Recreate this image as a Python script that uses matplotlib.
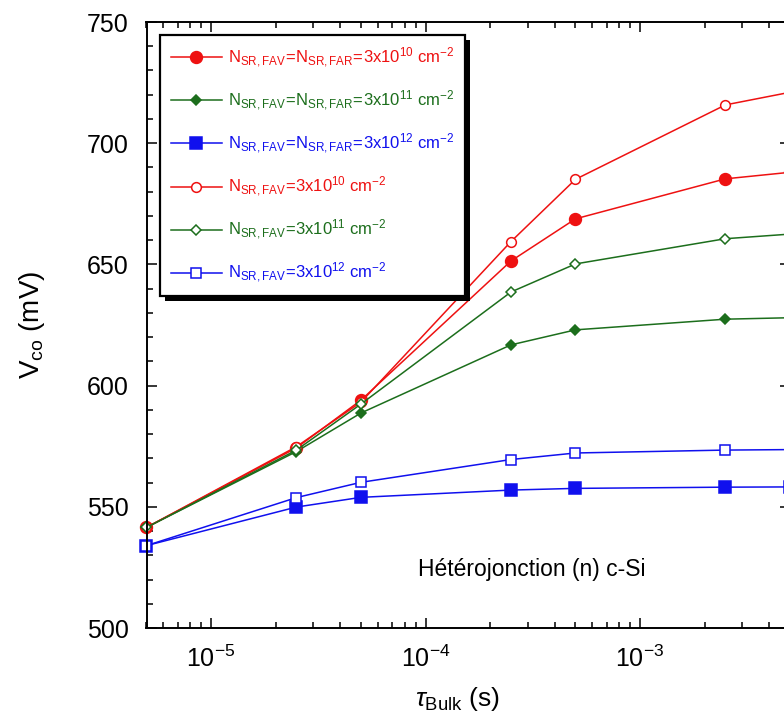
import matplotlib
matplotlib.use('Agg')
import matplotlib.pyplot as plt
from matplotlib.patches import Rectangle
from matplotlib.transforms import IdentityTransform

plt.rcParams['font.family'] = ['Liberation Sans', 'DejaVu Sans']
plt.rcParams['mathtext.fontset'] = 'custom'
plt.rcParams['mathtext.rm'] = 'Liberation Sans'
plt.rcParams['mathtext.it'] = 'Liberation Sans:italic'
plt.rcParams['mathtext.bf'] = 'Liberation Sans:bold'

# -----------------------------------------------------------------------
# Data
# -----------------------------------------------------------------------
tau_bulk = [5e-6, 2.5e-5, 5e-5, 2.5e-4, 5e-4, 2.5e-3, 5e-3]

voc_red_both   = [541.5, 574.3, 594.0, 651.4, 668.8, 685.3, 688.0]
voc_green_both = [541.5, 572.8, 588.7, 616.8, 623.0, 627.4, 628.0]
voc_blue_both  = [534.0, 549.9, 553.9, 556.9, 557.6, 558.1, 558.2]
voc_red_fav    = [541.5, 574.8, 593.2, 659.4, 685.1, 715.8, 721.0]
voc_green_fav  = [541.5, 573.4, 592.4, 638.6, 650.2, 660.6, 662.5]
voc_blue_fav   = [534.0, 553.8, 560.1, 569.5, 572.2, 573.4, 573.6]

labels = [
    r'$\mathrm{N_{SR,FAV}\!=\!N_{SR,FAR}\!=\!3x10^{10}\ cm^{-2}}$',
    r'$\mathrm{N_{SR,FAV}\!=\!N_{SR,FAR}\!=\!3x10^{11}\ cm^{-2}}$',
    r'$\mathrm{N_{SR,FAV}\!=\!N_{SR,FAR}\!=\!3x10^{12}\ cm^{-2}}$',
    r'$\mathrm{N_{SR,FAV}\!=\!3x10^{10}\ cm^{-2}}$',
    r'$\mathrm{N_{SR,FAV}\!=\!3x10^{11}\ cm^{-2}}$',
    r'$\mathrm{N_{SR,FAV}\!=\!3x10^{12}\ cm^{-2}}$',
]

RED   = '#ee1111'
GREEN = '#1c6e1c'
BLUE  = '#1010ee'

# -----------------------------------------------------------------------
# Plot
# -----------------------------------------------------------------------
fig = plt.figure(figsize=(7.84, 7.19), dpi=100)
W, H = 784, 719
x0, x1, y0, y1 = 146.5, 790, 22, 628     # axes box in pixels (right side is cropped)
ax = fig.add_axes([x0 / W, 1 - y1 / H, (x1 - x0) / W, (y1 - y0) / H])

series = [
    (voc_red_both,   RED,   'o', 8.5, RED),
    (voc_green_both, GREEN, 'D', 5.5, GREEN),
    (voc_blue_both,  BLUE,  's', 8.5, BLUE),
    (voc_red_fav,    RED,   'o', 7.0, 'white'),
    (voc_green_fav,  GREEN, 'D', 5.5, 'white'),
    (voc_blue_fav,   BLUE,  's', 7.0, 'white'),
]
for (vals, col, mk, ms, face), lab in zip(series, labels):
    ax.plot(tau_bulk, vals, color=col, lw=1.1, marker=mk, ms=ms,
            mfc=face, mec=col, mew=1.1, label=lab, clip_on=False)

ax.set_xscale('log')
ax.set_xlim(5e-6, 5e-3)
ax.set_ylim(500, 750)
ax.set_yticks(range(500, 751, 50))
ax.set_yticks(range(500, 751, 10), minor=True)

for s in ax.spines.values():
    s.set_linewidth(1.4)
ax.tick_params(which='both', direction='in', top=True, right=True,
               labelsize=18, width=1.1)
ax.tick_params(which='major', length=7)
ax.tick_params(which='minor', length=4)
ax.tick_params(axis='y', pad=13)
ax.tick_params(axis='x', pad=12.5)

ax.set_xlabel(r'$\tau_{\mathrm{Bulk}}$ (s)', fontsize=19)
ax.xaxis.set_label_coords(0.484, -0.094)
ax.set_ylabel(r'V$_{\mathrm{co}}$ (mV)', fontsize=20)
ax.yaxis.set_label_coords(-0.155, 0.5)

ax.text(0.422, 0.096, 'Hétérojonction (n) c-Si', transform=ax.transAxes,
        fontsize=16.5, ha='left', va='center')

leg = ax.legend(loc='upper left', bbox_to_anchor=(0.021, 0.9785),
                borderaxespad=0, fontsize=12, labelcolor='linecolor',
                handlelength=3.05, handletextpad=0.36, labelspacing=1.13,
                borderpad=0.65, fancybox=False, framealpha=1,
                edgecolor='black')
leg.get_frame().set_linewidth(1.6)
leg.set_zorder(6)

# heavy black drop shadow behind the legend box
fig.canvas.draw()
bb = leg.get_window_extent()
shadow = Rectangle((bb.x0 + 5, bb.y0 - 5), bb.width, bb.height,
                   transform=IdentityTransform(), facecolor='black',
                   edgecolor='none', zorder=5.9)
ax.add_artist(shadow)

plt.savefig('out.png', dpi=100)
